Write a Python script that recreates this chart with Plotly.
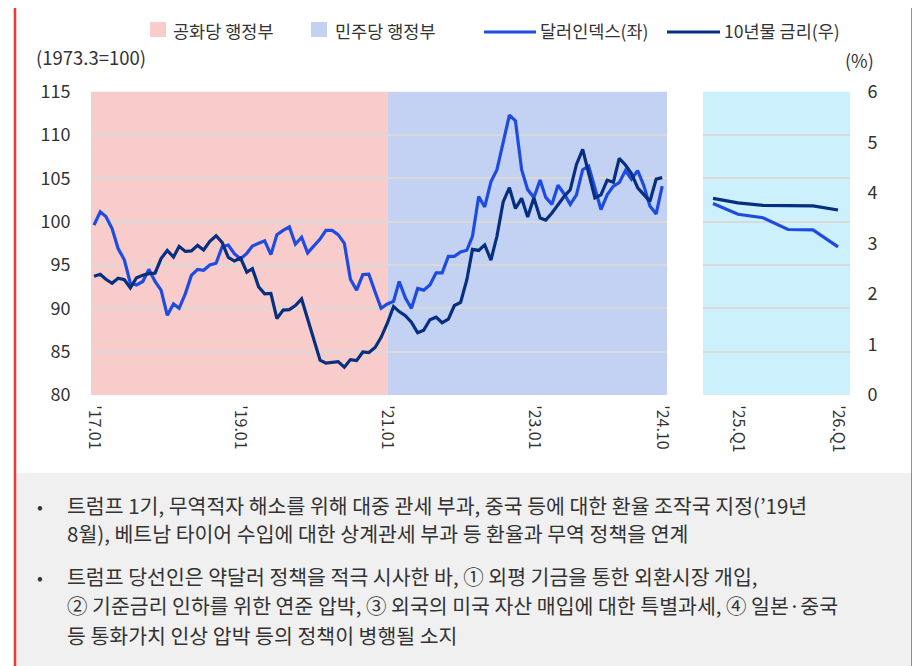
import plotly.graph_objects as go
import pandas as pd

# ---------------- data ----------------
months = pd.date_range("2017-01-01", "2024-10-01", freq="MS")

dollar_index = [
    99.6, 101.15, 100.6, 99.2, 96.9, 95.6, 92.9, 92.7, 93.1, 94.5, 93.1, 92.1,
    89.2, 90.5, 90.0, 91.7, 93.8, 94.5, 94.4, 95.0, 95.2, 97.1, 97.3, 96.3,
    95.7, 96.35, 97.2, 97.5, 97.8, 96.2, 98.5, 99.0, 99.4, 97.4, 98.2, 96.4,
    97.2, 98.0, 99.0, 99.0, 98.5, 97.5, 93.35, 92.1, 93.9, 93.95, 91.9, 90.0,
    90.5, 90.8, 93.1, 91.2, 90.0, 92.3, 92.1, 92.7, 94.1, 94.1, 96.0, 96.0,
    96.5, 96.7, 98.3, 102.9, 101.7, 104.6, 106.0, 109.0, 112.3, 111.65, 106.0, 103.7,
    102.8, 104.8, 102.8, 102.0, 104.2, 103.2, 102.0, 103.1, 106.0, 106.4, 103.7, 101.4,
    103.1, 104.1, 104.5, 105.9, 104.9, 105.9, 104.2, 101.8, 100.9, 104.1,
]

treasury_10y = [
    2.35, 2.39, 2.29, 2.21, 2.31, 2.28, 2.12, 2.32, 2.37, 2.40, 2.41, 2.70,
    2.86, 2.73, 2.94, 2.84, 2.85, 2.96, 2.87, 3.04, 3.15, 3.02, 2.72, 2.65,
    2.71, 2.43, 2.50, 2.14, 2.00, 2.01, 1.51, 1.68, 1.69, 1.77, 1.90, 1.50,
    1.12, 0.69, 0.63, 0.64, 0.66, 0.55, 0.70, 0.68, 0.85, 0.84, 0.94, 1.14,
    1.42, 1.75, 1.65, 1.57, 1.44, 1.23, 1.28, 1.49, 1.54, 1.43, 1.50, 1.77,
    1.83, 2.28, 2.88, 2.86, 2.97, 2.67, 3.14, 3.82, 4.10, 3.69, 3.89, 3.52,
    3.90, 3.50, 3.46, 3.60, 3.76, 3.93, 4.06, 4.56, 4.86, 4.37, 3.90, 3.96,
    4.25, 4.21, 4.68, 4.55, 4.38, 4.10, 3.97, 3.83, 4.27, 4.30,
]

fc_quarters = ["'24.Q4", "'25.Q1", "'25.Q2", "'25.Q3", "'25.Q4", "'26.Q1"]
fc_dollar = [102.1, 100.85, 100.45, 99.1, 99.05, 97.1]
fc_rate = [3.89, 3.80, 3.75, 3.74, 3.74, 3.66]

main_tickvals = ["2017-01-01", "2019-01-01", "2021-01-01", "2023-01-01", "2024-10-01"]
main_ticktext = ["'17.01", "'19.01", "'21.01", "'23.01", "'24.10"]
fc_tickvals = ["'25.Q1", "'26.Q1"]

left_ticks = [80, 85, 90, 95, 100, 105, 110, 115]
right_ticks = [0, 1, 2, 3, 4, 5, 6]

admin_change = "2021-01-01"   # 공화당 -> 민주당

legend_labels = ["공화당 행정부", "민주당 행정부", "달러인덱스(좌)", "10년물 금리(우)"]
left_unit = "(1973.3=100)"
right_unit = "(%)"

notes = [
    ["트럼프 1기, 무역적자 해소를 위해 대중 관세 부과, 중국 등에 대한 환율 조작국 지정(’19년",
     "8월), 베트남 타이어 수입에 대한 상계관세 부과 등 환율과 무역 정책을 연계"],
    ["트럼프 당선인은 약달러 정책을 적극 시사한 바, ① 외평 기금을 통한 외환시장 개입,",
     "② 기준금리 인하를 위한 연준 압박, ③ 외국의 미국 자산 매입에 대한 특별과세, ④ 일본·중국",
     "등 통화가치 인상 압박 등의 정책이 병행될 소지"],
]

# ---------------- style ----------------
W, H = 920, 666
OFF = 8  # page body margin in the browser
def px(x):
    return (x - OFF) / W
def py(y):
    return 1 - (y - OFF) / H

C_DOLLAR = "#1E4BE1"
C_RATE = "#06307F"
C_REP = "#F8CCCB"
C_DEM = "#C3D1F2"
C_FC = "#CCF1FC"
C_GRID = "#D9D9D9"
C_TEXT = "#333333"
C_RED = "#EA3A33"
FONT = "Noto Sans CJK KR"

x_main_range = ["2016-12-17", "2024-10-25"]

fig = go.Figure()

fig.add_trace(go.Scatter(x=months, y=dollar_index, mode="lines", xaxis="x", yaxis="y",
                         line=dict(color=C_DOLLAR, width=3.2), showlegend=False))
fig.add_trace(go.Scatter(x=months, y=treasury_10y, mode="lines", xaxis="x", yaxis="y2",
                         line=dict(color=C_RATE, width=3.2), showlegend=False))
fig.add_trace(go.Scatter(x=fc_quarters, y=fc_rate, mode="lines", xaxis="x2", yaxis="y4",
                         line=dict(color=C_RATE, width=3.2), showlegend=False))
fig.add_trace(go.Scatter(x=fc_quarters, y=fc_dollar, mode="lines", xaxis="x2", yaxis="y3",
                         line=dict(color=C_DOLLAR, width=3.2), showlegend=False))

y_dom = [py(395), py(91.7)]

common_y = dict(domain=y_dom, range=[80, 115], tickvals=left_ticks, showgrid=True,
                gridcolor=C_GRID, gridwidth=2, zeroline=False, showline=False,
                fixedrange=True, automargin=False)

fig.update_layout(
    width=W, height=H, autosize=False,
    margin=dict(l=0, r=0, t=0, b=0, pad=0, autoexpand=False),
    paper_bgcolor="white", plot_bgcolor="white",
    font=dict(family=FONT, size=16, color=C_TEXT),
    showlegend=False,
    xaxis=dict(domain=[px(91), px(667)], anchor="y", type="date", range=x_main_range,
               tickvals=main_tickvals, ticktext=main_ticktext, tickangle=90,
               showgrid=False, zeroline=False, showline=False, automargin=False,
               ticks="outside", ticklen=6, tickcolor="rgba(0,0,0,0)",
               tickfont=dict(size=16, color=C_TEXT)),
    xaxis2=dict(domain=[px(703), px(850)], anchor="y3", type="category", range=[-0.4, 5.48],
                tickvals=fc_tickvals, ticktext=fc_tickvals, tickangle=90,
                showgrid=False, zeroline=False, showline=False, automargin=False,
                ticks="outside", ticklen=6, tickcolor="rgba(0,0,0,0)",
                tickfont=dict(size=16, color=C_TEXT)),
    yaxis=dict(**common_y, anchor="x", side="left", showticklabels=True,
               ticks="outside", ticklen=16, tickcolor="rgba(0,0,0,0)",
               tickfont=dict(size=18, color=C_TEXT)),
    yaxis2=dict(domain=y_dom, range=[0, 6], overlaying="y", anchor="x", side="right",
                visible=False, showgrid=False, zeroline=False, automargin=False),
    yaxis3=dict(**common_y, anchor="x2", side="left", showticklabels=False),
    yaxis4=dict(domain=y_dom, range=[0, 6], overlaying="y3", anchor="x2", side="right",
                tickvals=right_ticks, showgrid=False, zeroline=False, showline=False,
                automargin=False,
                ticks="outside", ticklen=13, tickcolor="rgba(0,0,0,0)",
                tickfont=dict(size=18, color=C_TEXT), fixedrange=True),
)

shapes = []
# administration shading
shapes.append(dict(type="rect", xref="x", yref="y domain", x0=x_main_range[0], x1=admin_change,
                   y0=0, y1=1, fillcolor=C_REP, line=dict(width=0), layer="below"))
shapes.append(dict(type="rect", xref="x", yref="y domain", x0=admin_change, x1=x_main_range[1],
                   y0=0, y1=1, fillcolor=C_DEM, line=dict(width=0), layer="below"))
# forecast panel
shapes.append(dict(type="rect", xref="x2 domain", yref="y3 domain", x0=0, x1=1, y0=0, y1=1,
                   fillcolor=C_FC, line=dict(width=0), layer="below"))
# note box
shapes.append(dict(type="rect", xref="paper", yref="paper", x0=px(16), x1=px(912),
                   y0=py(680), y1=py(473), fillcolor="#F0F0F0", line=dict(width=0), layer="below"))
# red frame lines
for xx in (15, 912.5):
    shapes.append(dict(type="line", xref="paper", yref="paper", x0=px(xx), x1=px(xx),
                       y0=py(7), y1=py(680), line=dict(color=C_RED, width=2.5)))
# legend swatches
shapes.append(dict(type="rect", xref="paper", yref="paper", x0=px(150), x1=px(166),
                   y0=py(37), y1=py(22), fillcolor=C_REP, line=dict(width=0)))
shapes.append(dict(type="rect", xref="paper", yref="paper", x0=px(311), x1=px(327),
                   y0=py(37), y1=py(22), fillcolor=C_DEM, line=dict(width=0)))
shapes.append(dict(type="line", xref="paper", yref="paper", x0=px(484), x1=px(536),
                   y0=py(32), y1=py(32), line=dict(color=C_DOLLAR, width=3.2)))
shapes.append(dict(type="line", xref="paper", yref="paper", x0=px(667), x1=px(720),
                   y0=py(32), y1=py(32), line=dict(color=C_RATE, width=3.2)))

annotations = []
def txt(x, y, s, size=16, anchor="left", pad=1):
    annotations.append(dict(xref="paper", yref="paper", x=px(x), y=py(y), text=s,
                            showarrow=False, xanchor=anchor, yanchor="middle", align="left",
                            borderpad=pad,
                            font=dict(family=FONT, size=size, color=C_TEXT)))

txt(171, 30, legend_labels[0], size=17.5)
txt(333, 30, legend_labels[1], size=17.5)
txt(538, 31, legend_labels[2], size=17.5)
txt(722, 31, legend_labels[3], size=17.5)
txt(34, 57, left_unit, size=18.5)
txt(876, 60, right_unit, size=18, anchor="right")

line_ys = [[505, 532.5], [576, 605, 635]]
for para, ys in zip(notes, line_ys):
    txt(35, ys[0], "•", size=17)
    for s, yy in zip(para, ys):
        txt(66, yy, s, size=20.5, pad=0)

fig.update_layout(shapes=shapes, annotations=annotations)

fig.write_html("out.html")
